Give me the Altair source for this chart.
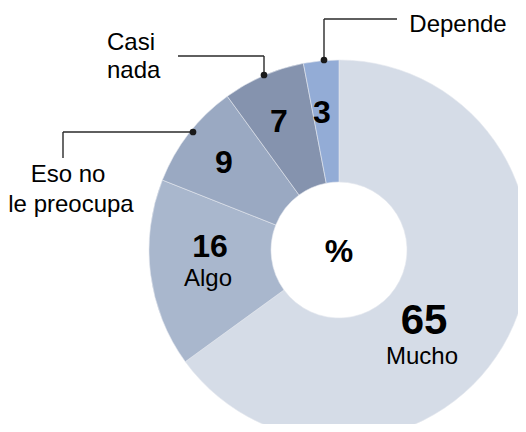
import altair as alt
import pandas as pd

categories = ["Mucho", "Algo", "Eso no le preocupa", "Casi nada", "Depende"]
values = [65, 16, 9, 7, 3]
colors = ["#d5dce7", "#a9b7cd", "#9aa9c2", "#8593ae", "#93acd6"]

CX, CY = 331, 242  # donut centre in chart coordinates (page minus 8px margin)

df = pd.DataFrame({"cat": categories, "val": values, "order": list(range(len(values)))})

arc = alt.Chart(df).mark_arc(
    outerRadius=190, innerRadius=68, stroke="#e4e8ef", strokeWidth=0.6
).encode(
    theta=alt.Theta("val:Q", stack=True),
    order=alt.Order("order:Q"),
    color=alt.Color("cat:N", scale=alt.Scale(domain=categories, range=colors), legend=None),
    x=alt.value(CX), y=alt.value(CY),
)

# value labels (annotation layout)
num_text = [str(v) for v in values] + ["%"]
num_x = [416, 202, 216, 271, 314, 331]
num_y = [326, 249, 165, 124, 115, 254]
num_size = [42, 32, 32, 32, 32, 32]
nums = alt.Chart(pd.DataFrame({"t": num_text, "x": num_x, "y": num_y, "s": num_size})).mark_text(
    font="Liberation Sans", fontWeight="bold", color="#000000", baseline="alphabetic", align="center"
).encode(
    text="t:N", x=alt.X("x:Q", scale=None), y=alt.Y("y:Q", scale=None),
    size=alt.Size("s:Q", scale=None, legend=None),
)

name_text = ["Mucho", "Algo", "Depende", "Eso no", "le preocupa"]
name_x = [414, 200, 450, 60, 63]
name_y = [356, 278, 24, 174, 204]
names = alt.Chart(pd.DataFrame({"t": name_text, "x": name_x, "y": name_y})).mark_text(
    font="Liberation Sans", fontSize=24, color="#000000", baseline="alphabetic", align="center"
).encode(text="t:N", x=alt.X("x:Q", scale=None), y=alt.Y("y:Q", scale=None))

left_text = ["Casi", "nada"]
left_x = [99, 99]
left_y = [42, 70]
names_left = alt.Chart(pd.DataFrame({"t": left_text, "x": left_x, "y": left_y})).mark_text(
    font="Liberation Sans", fontSize=24, color="#000000", baseline="alphabetic", align="left"
).encode(text="t:N", x=alt.X("x:Q", scale=None), y=alt.Y("y:Q", scale=None))

# leader lines
seg = pd.DataFrame({
    "x":  [316, 316, 256, 256, 185, 55],
    "y":  [52, 11, 67, 48, 124, 124],
    "x2": [316, 389, 256, 170, 55, 55],
    "y2": [11, 11, 48, 48, 124, 150],
})
leaders = alt.Chart(seg).mark_rule(color="#2a2a2a", strokeWidth=1.4).encode(
    x=alt.X("x:Q", scale=None), y=alt.Y("y:Q", scale=None),
    x2="x2:Q", y2="y2:Q",
)
dots = alt.Chart(pd.DataFrame({"x": [316, 256, 185], "y": [52, 67, 124]})).mark_circle(
    color="#1a1a1a", size=45, opacity=1
).encode(x=alt.X("x:Q", scale=None), y=alt.Y("y:Q", scale=None))

chart = alt.layer(arc, leaders, dots, nums, names, names_left).properties(
    width=510, height=416, autosize="none", padding=0
).configure_view(stroke=None)

chart.save("out.html", embed_options={"renderer": "svg", "actions": False})
